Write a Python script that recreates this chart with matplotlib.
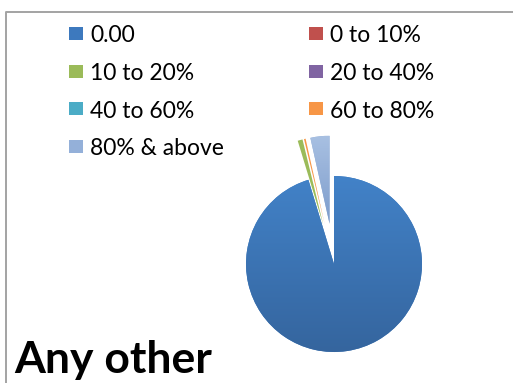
import numpy as np
import matplotlib
matplotlib.use('Agg')
import matplotlib.pyplot as plt
from matplotlib.patches import Rectangle
from matplotlib.colors import LinearSegmentedColormap

# share of respondents in each band
labels = ['0.00', '0 to 10%', '10 to 20%', '20 to 40%', '40 to 60%', '60 to 80%', '80% & above']
shares = [95.3, 0.0, 0.9, 0.0, 0.0, 0.3, 3.5]
colors = ['#3d79be', '#c0504d', '#9bbb59', '#8064a2', '#4bacc6', '#f79646', '#94b0d9']
title = 'Any other'

W, H = 513, 383
fig = plt.figure(figsize=(W / 100, H / 100), dpi=100)

# pie axes: whole figure, units of pie radius, centre at (334, 264) px
cx, cy, r = 334, 264, 88
ax = fig.add_axes([0, 0, 1, 1])
explode = [0.0] + [0.46] * (len(shares) - 1)
wedges, _ = ax.pie(shares, colors=colors, explode=explode, startangle=90,
                   counterclock=False, radius=1.0,
                   wedgeprops=dict(linewidth=0))

# soft vertical shading on the two visible big slices
grads = {0: ('#4282c8', '#35659e'), 6: ('#a8c0e2', '#7d9ccb')}
for i, (top, bot) in grads.items():
    w = wedges[i]
    cmap = LinearSegmentedColormap.from_list('g%d' % i, [bot, top])
    bb = w.get_path().get_extents(w.get_patch_transform())
    g = np.linspace(0, 1, 256).reshape(-1, 1)
    im = ax.imshow(g, cmap=cmap, origin='lower', aspect='auto',
                   extent=[bb.x0, bb.x1, bb.y0, bb.y1], zorder=w.get_zorder())
    im.set_clip_path(w)

ax.set_xlim(-cx / r, (W - cx) / r)
ax.set_ylim(-(H - cy) / r, cy / r)
ax.set_aspect('auto')
ax.axis('off')

# overlay in pixel coordinates for legend, title and frame
ov = fig.add_axes([0, 0, 1, 1], facecolor='none')
ov.set_xlim(0, W)
ov.set_ylim(H, 0)
ov.axis('off')

ov.plot([6, 6, W + 5], [H + 5, 12, 12], color='#a3a3a3', lw=1.4, clip_on=False)

font = ['Lato', 'DejaVu Sans']
col_x = [69, 309]
row_y = [33.5, 71, 108.5, 146]
for k, lab in enumerate(labels):
    cx_, ry = col_x[k % 2], row_y[k // 2]
    ov.add_patch(Rectangle((cx_, ry - 6.5), 14, 13, facecolor=colors[k], edgecolor='none'))
    ov.text(cx_ + 21, ry + 9, lab, fontsize=16.5, family=font, va='baseline', ha='left',
            color='black')

ov.text(14, 373, title, fontsize=32, family=font, fontweight='bold',
        va='baseline', ha='left', color='black')

fig.savefig('out.png', dpi=100)
